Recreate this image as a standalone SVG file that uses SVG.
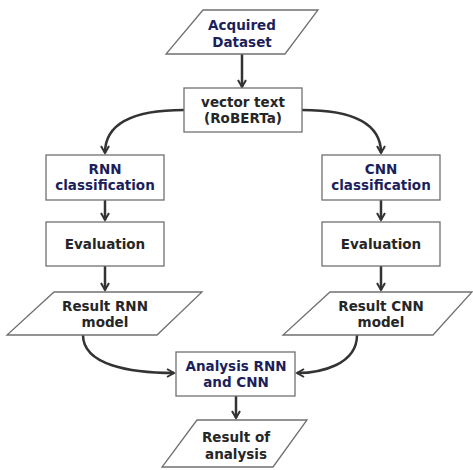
<svg xmlns="http://www.w3.org/2000/svg" width="473" height="470" viewBox="0 0 473 470">
<defs>
<marker id="ah" viewBox="0 0 10 10" refX="8" refY="5" markerWidth="4" markerHeight="4" orient="auto" markerUnits="strokeWidth">
<path d="M1,1 L8,5 L1,9" fill="none" stroke="#333" stroke-width="2"/>
</marker>
<style>
.shape{fill:#fff;stroke:#707070;stroke-width:1.3}
.t{font-family:"DejaVu Sans",Verdana,sans-serif;font-weight:bold;font-size:13.5px;text-anchor:middle}
.n{fill:#1c1f5a}
.k{fill:#262626}
.c{fill:none;stroke:#333;stroke-width:2.5;marker-end:url(#ah)}
</style>
</defs>
<rect width="473" height="470" fill="#fff"/>
<g id="connectors">
<path class="c" d="M242,54 L242,87"/>
<path class="c" d="M184,110 C140,110 105,120 105,153"/>
<path class="c" d="M302,110 C346,110 381,120 381,153"/>
<path class="c" d="M105,200 L105,220"/>
<path class="c" d="M381,200 L381,220"/>
<path class="c" d="M105,266 L105,290"/>
<path class="c" d="M381,266 L381,290"/>
<path class="c" d="M83,335 C83,365 130,373 174,373"/>
<path class="c" d="M357,335 C357,365 320,373 297,373"/>
<path class="c" d="M236,396 L236,418"/>
</g>
<g id="acquired">
<polygon class="shape" points="203,10 318,10 285,54 166,54"/>
<text class="t n" x="242" y="30">Acquired</text>
<text class="t n" x="242" y="47">Dataset</text>
</g>
<g id="vector">
<rect class="shape" x="184" y="88" width="118" height="44"/>
<text class="t k" x="243" y="107">vector text</text>
<text class="t k" x="243" y="123">(RoBERTa)</text>
</g>
<g id="rnn">
<rect class="shape" x="46" y="155" width="118" height="45"/>
<text class="t n" x="105" y="174">RNN</text>
<text class="t n" x="105" y="190">classification</text>
</g>
<g id="cnn">
<rect class="shape" x="322" y="155" width="118" height="45"/>
<text class="t n" x="381" y="174">CNN</text>
<text class="t n" x="381" y="190">classification</text>
</g>
<g id="eval-rnn">
<rect class="shape" x="46" y="222" width="118" height="44"/>
<text class="t k" x="105" y="249">Evaluation</text>
</g>
<g id="eval-cnn">
<rect class="shape" x="322" y="222" width="118" height="44"/>
<text class="t k" x="381" y="249">Evaluation</text>
</g>
<g id="result-rnn">
<polygon class="shape" points="54,292 202,292 157,335 7,335"/>
<text class="t k" x="105" y="311">Result RNN</text>
<text class="t k" x="105" y="327">model</text>
</g>
<g id="result-cnn">
<polygon class="shape" points="330,292 472,292 433,335 283,335"/>
<text class="t k" x="381" y="311">Result CNN</text>
<text class="t k" x="381" y="327">model</text>
</g>
<g id="analysis">
<rect class="shape" x="176" y="352" width="119" height="44"/>
<text class="t n" x="236" y="371">Analysis RNN</text>
<text class="t n" x="236" y="387">and CNN</text>
</g>
<g id="result-analysis">
<polygon class="shape" points="197,420 307,420 273,467 162,467"/>
<text class="t k" x="236" y="442">Result of</text>
<text class="t k" x="236" y="459">analysis</text>
</g>
</svg>
